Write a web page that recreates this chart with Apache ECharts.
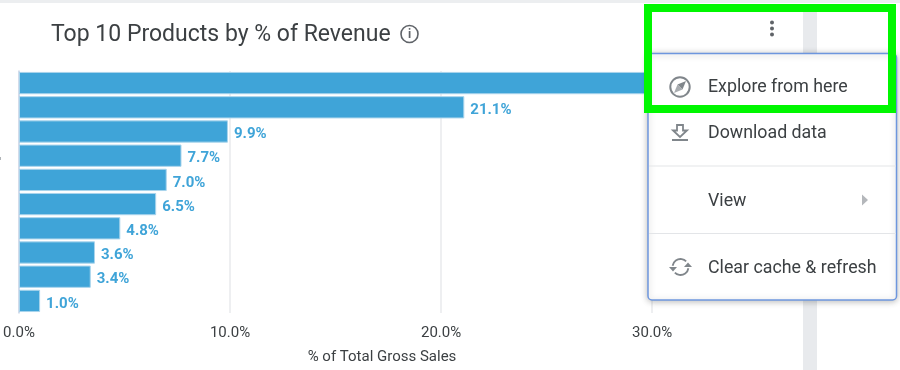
<!DOCTYPE html>
<html>
<head>
<meta charset="utf-8">
<title>Top 10 Products by % of Revenue</title>
<script src="https://cdn.jsdelivr.net/npm/echarts@6/dist/echarts.min.js"></script>
<style>
  html, body { margin: 0; padding: 0; background: #fff; }
  #main { width: 900px; height: 370px; }
</style>
</head>
<body>
<div id="main"></div>
<script>
const products = ["Product 1", "Product 2", "Product 3", "Product 4", "Product 5",
  "Product 6", "Product 7", "Product 8", "Product 9", "Product 10"];
// first bar runs behind the menu, its value is only a guess
const sharePct = [34.0, 21.1, 9.9, 7.7, 7.0, 6.5, 4.8, 3.6, 3.4, 1.0];
const hiddenLabels = [0];
const axisTicks = [0, 10, 20, 30];
const menuLabels = ["Explore from here", "Download data", "View", "Clear cache & refresh"];

const TEXT = "#3c4043";
const BAR = "#3fa4d8";
const ICON = "#80868b";
const FONT = "Roboto, sans-serif";

function menuText(label, y) {
  return {
    type: "text", z: 110, x: 708, y: y,
    style: { text: label, font: "17.8px " + FONT, fill: TEXT, verticalAlign: "middle" }
  };
}

function chromeElements() {
  const stroke = { stroke: ICON, fill: "none", lineWidth: 2 };
  return [
    // page background bits
    { type: "rect", z: 1, shape: { x: 0, y: 0, width: 900, height: 3 }, style: { fill: "#eceef0" } },
    { type: "rect", z: 1, shape: { x: 803, y: 12, width: 14, height: 358 }, style: { fill: "#e8eaed" } },
    { type: "rect", z: 1, shape: { x: 0, y: 157, width: 1, height: 3 }, style: { fill: "#b0b4b8" } },

    // info icon beside the title
    { type: "circle", z: 110, shape: { cx: 409.5, cy: 34, r: 8.5 }, style: { stroke: "#5f6368", fill: "none", lineWidth: 1.6 } },
    { type: "text", z: 110, x: 409.5, y: 34.5, style: { text: "i", font: "bold 12px " + FONT, fill: "#5f6368", align: "center", verticalAlign: "middle" } },

    // three dots
    { type: "circle", z: 110, shape: { cx: 772, cy: 22.5, r: 2 }, style: { fill: "#5f6368" } },
    { type: "circle", z: 110, shape: { cx: 772, cy: 28.5, r: 2 }, style: { fill: "#5f6368" } },
    { type: "circle", z: 110, shape: { cx: 772, cy: 34.5, r: 2 }, style: { fill: "#5f6368" } },

    // menu card
    {
      type: "rect", z: 100,
      shape: { x: 648, y: 53.5, width: 248.5, height: 246.5, r: 4 },
      style: { fill: "#fff", stroke: "#6d96de", lineWidth: 1.5, shadowBlur: 6, shadowColor: "rgba(0,0,0,0.25)", shadowOffsetY: 1 }
    },
    { type: "line", z: 105, shape: { x1: 649, y1: 166, x2: 896, y2: 166 }, style: { stroke: "#e3e5e8", lineWidth: 1.2 } },
    { type: "line", z: 105, shape: { x1: 649, y1: 233.5, x2: 896, y2: 233.5 }, style: { stroke: "#e3e5e8", lineWidth: 1.2 } },

    menuText(menuLabels[0], 88),
    menuText(menuLabels[1], 134),
    menuText(menuLabels[2], 201.5),
    menuText(menuLabels[3], 268.5),

    // compass
    { type: "circle", z: 110, shape: { cx: 680, cy: 87, r: 9.7 }, style: stroke },
    { type: "polygon", z: 110, shape: { points: [[686, 81], [682.5, 89.5], [677.5, 84.5]] }, style: { fill: ICON } },
    { type: "polygon", z: 110, shape: { points: [[674, 93], [677.5, 84.5], [682.5, 89.5]] }, style: { fill: "#a8acb0" } },

    // download
    { type: "polygon", z: 110, shape: { points: [[677, 125], [683, 125], [683, 130.5], [687, 130.5], [680, 137], [673, 130.5], [677, 130.5]] }, style: { stroke: ICON, fill: "none", lineWidth: 1.8 } },
    { type: "line", z: 110, shape: { x1: 672, y1: 140, x2: 688, y2: 140 }, style: { stroke: ICON, lineWidth: 2 } },

    // submenu arrow
    { type: "polygon", z: 110, shape: { points: [[862, 194.5], [868, 200], [862, 205.5]] }, style: { fill: "#b4b7bb" } },

    // refresh
    { type: "arc", z: 110, shape: { cx: 680.5, cy: 267, r: 8, startAngle: Math.PI * 1.05, endAngle: Math.PI * 1.75 }, style: { stroke: ICON, fill: "none", lineWidth: 1.8 } },
    { type: "arc", z: 110, shape: { cx: 680.5, cy: 267, r: 8, startAngle: Math.PI * 0.05, endAngle: Math.PI * 0.75 }, style: { stroke: ICON, fill: "none", lineWidth: 1.8 } },
    { type: "polygon", z: 110, shape: { points: [[669, 267], [677, 267], [673, 271.5]] }, style: { fill: ICON } },
    { type: "polygon", z: 110, shape: { points: [[684, 267], [692, 267], [688, 262.5]] }, style: { fill: ICON } },

    // green highlight box
    {
      type: "rect", z: 120,
      shape: { x: 648, y: 8, width: 244, height: 101 },
      style: { fill: "none", stroke: "#00f700", lineWidth: 8 }
    }
  ];
}

const chart = echarts.init(document.getElementById("main"), null, { renderer: "canvas" });

chart.setOption({
  animation: false,
  backgroundColor: "#fff",
  textStyle: { fontFamily: FONT },
  title: {
    text: "Top 10 Products by % of Revenue",
    left: 46,
    top: 19,
    textStyle: { fontFamily: FONT, fontSize: 23, fontWeight: "normal", color: TEXT }
  },
  grid: { left: 19, top: 71, width: 726, height: 242 },
  xAxis: {
    type: "value",
    min: 0,
    max: 34.4,
    interval: axisTicks[1] - axisTicks[0],
    name: "% of Total Gross Sales",
    nameLocation: "middle",
    nameGap: 37,
    nameTextStyle: { fontFamily: FONT, fontSize: 15, color: TEXT },
    axisLine: { show: false },
    axisTick: { show: false },
    axisLabel: {
      fontFamily: FONT, fontSize: 15, color: TEXT, margin: 13,
      showMaxLabel: false,
      formatter: v => v.toFixed(1) + "%"
    },
    splitLine: { show: true, showMaxLine: false, lineStyle: { color: "#e8eaed", width: 1.5 } }
  },
  yAxis: {
    type: "category",
    data: products,
    inverse: true,
    axisLine: { show: true, lineStyle: { color: "#c9d6e8", width: 1.5 } },
    axisTick: { show: false },
    axisLabel: { show: false },
    splitLine: { show: false }
  },
  series: [{
    type: "bar",
    data: sharePct.map((v, i) => ({
      value: v,
      label: { show: !hiddenLabels.includes(i) }
    })),
    barCategoryGap: "8%",
    itemStyle: { color: BAR, borderColor: "#a9d4ec", borderWidth: 1 },
    label: {
      show: true,
      position: "right",
      distance: 6,
      offset: [0, 3],
      fontFamily: FONT,
      fontSize: 15,
      fontWeight: "bold",
      color: BAR,
      formatter: p => p.value.toFixed(1) + "%"
    }
  }],
  graphic: { elements: chromeElements() }
});

window.addEventListener("resize", () => { chart.resize(); });
</script>
</body>
</html>
